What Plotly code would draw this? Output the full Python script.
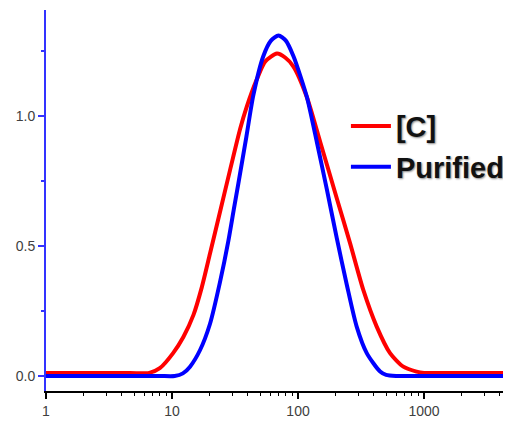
import plotly.graph_objects as go

# Size axis (log scale) and intensity readings
red_x = [1, 2, 4, 6.6, 8.0, 10.2, 12.3, 14.8, 17.2, 20, 24, 28.8, 34.7, 39.2, 47, 55, 68,
         79, 92, 117, 150, 204, 259, 330, 421, 537, 685, 871, 1000, 2000, 5000]
red_y = [0.012, 0.012, 0.012, 0.012, 0.03, 0.088, 0.15, 0.235, 0.34, 0.47, 0.63, 0.79, 0.95,
         1.036, 1.14, 1.21, 1.24, 1.225, 1.19, 1.075, 0.90, 0.68, 0.51, 0.33, 0.19, 0.088,
         0.036, 0.017, 0.012, 0.012, 0.012]

blue_x = [1, 2, 4, 8, 10.5, 12.2, 13.9, 16.7, 20, 24, 28, 30.9, 33.6, 38.9, 44.2, 53, 61, 70,
          80, 92, 105, 118, 141, 169, 203, 244, 292, 351, 448, 500, 600, 1000, 2000, 5000]
blue_y = [0.0, 0.0, 0.0, 0.0, 0.0, 0.01, 0.036, 0.10, 0.20, 0.36, 0.52, 0.64, 0.74, 0.92,
          1.08, 1.23, 1.29, 1.31, 1.29, 1.23, 1.15, 1.07, 0.90, 0.72, 0.53, 0.35, 0.19, 0.088,
          0.017, 0.004, 0.0, 0.0, 0.0, 0.0]

x_tickvals = [1, 10, 100, 1000]
x_ticktext = ["1", "10", "100", "1000"]
y_tickvals = [0, 0.5, 1.0]
y_ticktext = ["0.0", "0.5", "1.0"]

series_names = ["[C]", "Purified"]

fig = go.Figure()
fig.add_trace(go.Scatter(x=red_x, y=red_y, mode="lines", name=series_names[0],
                         line=dict(color="#ff0000", width=4, shape="spline", smoothing=0.7)))
fig.add_trace(go.Scatter(x=blue_x, y=blue_y, mode="lines", name=series_names[1],
                         line=dict(color="#0000ff", width=4, shape="spline", smoothing=0.7)))

tick_font = dict(family="Liberation Sans, Arial, sans-serif", size=14, color="#404040")

# the page body adds an 8 px offset, so the figure is sized 8 px smaller
fig.update_layout(
    width=503, height=413,
    margin=dict(l=38, r=0, t=2, b=30, autoexpand=False),
    paper_bgcolor="white", plot_bgcolor="white",
    showlegend=True,
    legend=dict(
        x=0.645, y=0.762, xanchor="left", yanchor="top",
        bgcolor="rgba(0,0,0,0)",
        font=dict(family="Liberation Sans, Arial, sans-serif", size=29, color="#111111",
                  weight="bold", shadow="1px 1px 2px #888888"),
        tracegroupgap=0, itemwidth=40,
    ),
    xaxis=dict(
        type="log", range=[0, 3.69],
        showgrid=False, zeroline=False, automargin=False,
        showline=True, linecolor="black", linewidth=1.5,
        ticks="outside", ticklen=6, tickwidth=1.5, tickcolor="black",
        tickvals=x_tickvals, ticktext=x_ticktext, tickfont=tick_font,
        minor=dict(ticks="outside", ticklen=3, tickwidth=1, tickcolor="black", dtick="D1",
                   showgrid=False),
    ),
    yaxis=dict(
        range=[-0.0577, 1.4077],
        showgrid=False, zeroline=False, automargin=False,
        showline=True, linecolor="#3333ff", linewidth=2,
        ticks="outside", ticklen=6, tickwidth=1.5, tickcolor="#3333ff",
        tickvals=y_tickvals, ticktext=y_ticktext, tickfont=tick_font,
        minor=dict(ticks="outside", ticklen=3, tickwidth=1.5, tickcolor="#3333ff", dtick=0.25,
                   showgrid=False),
    ),
)

fig.write_html("out.html")
